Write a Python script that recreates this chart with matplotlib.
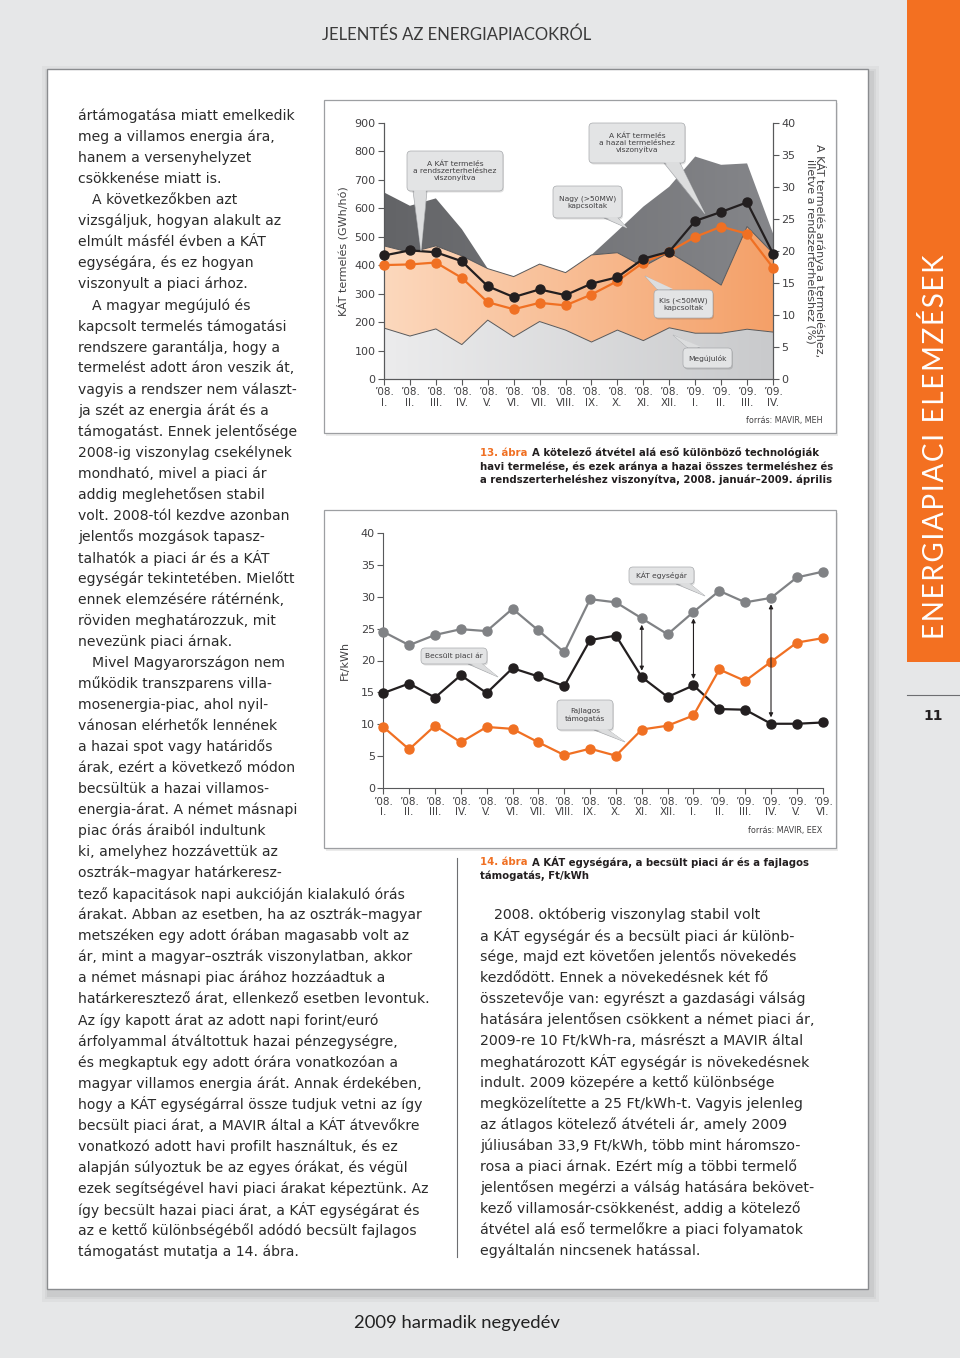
import numpy as np
import matplotlib
matplotlib.use('Agg')
import matplotlib.pyplot as plt
from matplotlib.patches import Rectangle, FancyBboxPatch, Polygon
from matplotlib.colors import LinearSegmentedColormap

# ---- data: chart 13 (monthly KÁT production, GWh/month, and shares in %) ----
months13 = ['’08.\nI.', '’08.\nII.', '’08.\nIII.', '’08.\nIV.', '’08.\nV.', '’08.\nVI.',
            '’08.\nVII.', '’08.\nVIII.', '’08.\nIX.', '’08.\nX.', '’08.\nXI.', '’08.\nXII.',
            '’09.\nI.', '’09.\nII.', '’09.\nIII.', '’09.\nIV.']
megujulok = [179, 151, 176, 121, 207, 148, 202, 172, 130, 172, 135, 180, 161, 161, 175, 165]
kis_kapcsolt = [289, 294, 292, 312, 181, 212, 202, 202, 306, 272, 260, 265, 229, 169, 361, 277]
nagy_kapcsolt = [188, 164, 167, 94, 0, 0, 0, 0, 0, 76, 211, 231, 392, 423, 222, 70]
arany_hazai = [19.3, 20.1, 19.8, 18.4, 14.5, 12.8, 14.0, 13.1, 14.9, 15.9, 18.8, 19.9,
               24.7, 26.1, 27.6, 19.6]
arany_rendszer = [17.8, 17.9, 18.2, 15.8, 12.0, 10.9, 11.9, 11.5, 13.2, 15.3, 18.2, 19.9,
                  22.2, 23.8, 22.7, 17.4]

# ---- data: chart 14 (Ft/kWh) ----
months14 = months13 + ['’09.\nV.', '’09.\nVI.']
kat_egysegar = [24.5, 22.4, 24.0, 24.9, 24.6, 28.1, 24.7, 21.3, 29.6, 29.1, 26.6, 24.1,
                27.6, 30.9, 29.1, 29.8, 33.0, 33.9]
piaci_ar = [14.9, 16.4, 14.2, 17.7, 14.9, 18.8, 17.5, 16.0, 23.2, 23.9, 17.4, 14.3,
            16.1, 12.4, 12.3, 10.1, 10.1, 10.3]
tamogatas = [9.6, 6.1, 9.8, 7.2, 9.6, 9.3, 7.2, 5.2, 6.2, 5.1, 9.2, 9.8,
             11.4, 18.6, 16.8, 19.8, 22.8, 23.5]
arrow_months = [10, 12, 15]

# ---- page text ----
left_lines = [
    'ártámogatása miatt emelkedik', 'meg a villamos energia ára,', 'hanem a versenyhelyzet',
    'csökkenése miatt is.', '>A következőkben azt', 'vizsgáljuk, hogyan alakult az',
    'elmúlt másfél évben a KÁT', 'egységára, és ez hogyan', 'viszonyult a piaci árhoz.',
    '>A magyar megújuló és', 'kapcsolt termelés támogatási', 'rendszere garantálja, hogy a',
    'termelést adott áron veszik át,', 'vagyis a rendszer nem választ-',
    'ja szét az energia árát és a', 'támogatást. Ennek jelentősége',
    '2008-ig viszonylag csekélynek', 'mondható, mivel a piaci ár', 'addig meglehetősen stabil',
    'volt. 2008-tól kezdve azonban', 'jelentős mozgások tapasz-', 'talhatók a piaci ár és a KÁT',
    'egységár tekintetében. Mielőtt', 'ennek elemzésére rátérnénk,', 'röviden meghatározzuk, mit',
    'nevezünk piaci árnak.', '>Mivel Magyarországon nem', 'működik transzparens villa-',
    'mosenergia-piac, ahol nyil-', 'vánosan elérhetők lennének', 'a hazai spot vagy határidős',
    'árak, ezért a következő módon', 'becsültük a hazai villamos-', 'energia-árat. A német másnapi',
    'piac órás áraiból indultunk', 'ki, amelyhez hozzávettük az', 'osztrák–magyar határkeresz-',
    'tező kapacitások napi aukcióján kialakuló órás',
    'árakat. Abban az esetben, ha az osztrák–magyar',
    'metszéken egy adott órában magasabb volt az',
    'ár, mint a magyar–osztrák viszonylatban, akkor',
    'a német másnapi piac árához hozzáadtuk a',
    'határkeresztező árat, ellenkező esetben levontuk.',
    'Az így kapott árat az adott napi forint/euró',
    'árfolyammal átváltottuk hazai pénzegységre,',
    'és megkaptuk egy adott órára vonatkozóan a',
    'magyar villamos energia árát. Annak érdekében,',
    'hogy a KÁT egységárral össze tudjuk vetni az így',
    'becsült piaci árat, a MAVIR által a KÁT átvevőkre',
    'vonatkozó adott havi profilt használtuk, és ez',
    'alapján súlyoztuk be az egyes órákat, és végül',
    'ezek segítségével havi piaci árakat képeztünk. Az',
    'így becsült hazai piaci árat, a KÁT egységárat és',
    'az e kettő különbségéből adódó becsült fajlagos',
    'támogatást mutatja a 14. ábra.',
]
right_lines = [
    '>2008. októberig viszonylag stabil volt', 'a KÁT egységár és a becsült piaci ár különb-',
    'sége, majd ezt követően jelentős növekedés', 'kezdődött. Ennek a növekedésnek két fő',
    'összetevője van: egyrészt a gazdasági válság', 'hatására jelentősen csökkent a német piaci ár,',
    '2009-re 10 Ft/kWh-ra, másrészt a MAVIR által', 'meghatározott KÁT egységár is növekedésnek',
    'indult. 2009 közepére a kettő különbsége', 'megközelítette a 25 Ft/kWh-t. Vagyis jelenleg',
    'az átlagos kötelező átvételi ár, amely 2009', 'júliusában 33,9 Ft/kWh, több mint háromszo-',
    'rosa a piaci árnak. Ezért míg a többi termelő', 'jelentősen megérzi a válság hatására bekövet-',
    'kező villamosár-csökkenést, addig a kötelező', 'átvétel alá eső termelőkre a piaci folyamatok',
    'egyáltalán nincsenek hatással.',
]

ORANGE = '#f07023'
DARK = '#231f20'
TXT = '#2b2b2b'
GRAYTXT = '#414042'
LATO = ['Lato', 'DejaVu Sans']

fig = plt.figure(figsize=(9.6, 13.58), dpi=100)
fig.patch.set_facecolor('#e6e7e8')

# background layer in pixel coordinates
bg = fig.add_axes([0, 0, 1, 1], zorder=0)
bg.set_xlim(0, 960)
bg.set_ylim(1358, 0)
bg.axis('off')

# sidebar
bg.add_patch(Rectangle((907, 0), 53, 662, fc='#f37021', ec='none'))
bg.text(935, 447, '\u200a'.join('ENERGIAPIACI ELEMZÉSEK'), rotation=90, ha='center',
        va='center', color='white', fontsize=20, family=LATO)
bg.plot([907, 960], [695, 695], color='#6d6e71', lw=0.8)
bg.text(933, 716, '11', ha='center', va='center', fontsize=10, fontweight='bold', color=DARK)

bg.text(457, 35, 'JELENTÉS AZ ENERGIAPIACOKRÓL', ha='center', va='center', fontsize=12,
        family=LATO, color='#3a3a3a')
bg.text(457, 1323, '2009 harmadik negyedév', ha='center', va='center', fontsize=13.3,
        family=LATO, color='#222222')

# page with soft shadow
for k, a in [(8, 0.03), (5, 0.04), (3, 0.05)]:
    bg.add_patch(Rectangle((47 - k + 3, 69 - k + 5), 821 + 2 * k, 1220 + 2 * k,
                           fc='black', ec='none', alpha=a))
bg.add_patch(Rectangle((47, 69), 821, 1220, fc='white', ec='#8a8c8f', lw=1))

# chart boxes
for (x0, y0, x1, y1) in [(324, 100, 836, 433), (324, 510, 836, 848)]:
    bg.add_patch(Rectangle((x0 + 2, y0 + 3), x1 - x0, y1 - y0, fc='black', ec='none', alpha=0.08))
    bg.add_patch(Rectangle((x0, y0), x1 - x0, y1 - y0, fc='white', ec='#9d9fa2', lw=0.9))

# body text
for i, s in enumerate(left_lines):
    x = 78
    if s.startswith('>'):
        s, x = s[1:], 92
    bg.text(x, 116 + 21.03 * i, s, ha='left', va='center', fontsize=10.1, color=TXT)
for i, s in enumerate(right_lines):
    x = 480
    if s.startswith('>'):
        s, x = s[1:], 494
    bg.text(x, 915 + 21.0 * i, s, ha='left', va='center', fontsize=10.2, color=TXT)
bg.plot([457, 457], [858, 1257], color='#6d6e71', lw=0.8)

# captions
cap_fs = 7.25
bg.text(480, 453, '13. ábra', fontsize=cap_fs, fontweight='bold', color=ORANGE, va='center')
bg.text(532, 453, 'A kötelező átvétel alá eső különböző technológiák', fontsize=cap_fs,
        fontweight='bold', color=DARK, va='center')
bg.text(480, 466.5, 'havi termelése, és ezek aránya a hazai összes termeléshez és',
        fontsize=cap_fs, fontweight='bold', color=DARK, va='center')
bg.text(480, 480, 'a rendszerterheléshez viszonyítva, 2008. január–2009. április',
        fontsize=cap_fs, fontweight='bold', color=DARK, va='center')
bg.text(480, 862, '14. ábra', fontsize=cap_fs, fontweight='bold', color=ORANGE, va='center')
bg.text(532, 862, 'A KÁT egységára, a becsült piaci ár és a fajlagos', fontsize=cap_fs,
        fontweight='bold', color=DARK, va='center')
bg.text(480, 876, 'támogatás, Ft/kWh', fontsize=cap_fs, fontweight='bold', color=DARK,
        va='center')
bg.text(822, 421, 'forrás: MAVIR, MEH', fontsize=5.8, color=GRAYTXT, ha='right', va='center')
bg.text(822, 830, 'forrás: MAVIR, EEX', fontsize=5.8, color=GRAYTXT, ha='right', va='center')


def px_axes(x0, y0, x1, y1, z=2):
    return fig.add_axes([x0 / 960, 1 - y1 / 1358, (x1 - x0) / 960, (y1 - y0) / 1358], zorder=z)


def style_axis(ax):
    ax.set_facecolor('none')
    for sp in ax.spines.values():
        sp.set_color('#58595b')
        sp.set_linewidth(0.8)
    ax.tick_params(colors='#58595b', labelcolor=GRAYTXT, width=0.8, length=4, pad=2)


def grad_fill(ax, x, lo, hi, c0, c1, ymax, z):
    verts = list(zip(x, hi)) + list(zip(x[::-1], lo[::-1]))
    poly = Polygon(verts, closed=True, fc='none', ec='none')
    ax.add_patch(poly)
    cmap = LinearSegmentedColormap.from_list('g', [c0, c1])
    im = ax.imshow(np.linspace(0, 1, 256).reshape(1, -1), cmap=cmap, aspect='auto',
                   extent=[x[0], x[-1], 0, ymax], origin='lower', zorder=z)
    im.set_clip_path(poly)


# ---- chart 13 ----
ax13 = px_axes(384, 123, 773, 379)
style_axis(ax13)
x13 = np.arange(len(months13))
b1 = np.array(megujulok, float)
b2 = b1 + np.array(kis_kapcsolt)
b3 = b2 + np.array(nagy_kapcsolt)
zero = np.zeros_like(b1)
grad_fill(ax13, x13, zero, b1, '#ececed', '#c9cacc', 900, 1)
grad_fill(ax13, x13, b1, b2, '#fcd8bd', '#f4a068', 900, 1)
grad_fill(ax13, x13, b2, b3, '#636467', '#85868a', 900, 1)
ax13.plot(x13, b1, color='#58595b', lw=0.7, zorder=2)
ax13.plot(x13, b2, color='#58595b', lw=0.7, zorder=2)
ax13.set_xlim(0, len(months13) - 1)
ax13.set_ylim(0, 900)
ax13.set_yticks(range(0, 901, 100))
ax13.set_xticks(x13)
ax13.set_xticklabels(months13, fontsize=7.5, linespacing=1.05)
ax13.tick_params(axis='y', labelsize=8)
ax13.spines['top'].set_visible(False)
ax13.set_ylabel('KÁT termelés (GWh/hó)', fontsize=8, color=GRAYTXT, labelpad=4)

ax13r = ax13.twinx()
style_axis(ax13r)
ax13r.spines['top'].set_visible(False)
ax13r.set_ylim(0, 40)
ax13r.set_yticks(range(0, 41, 5))
ax13r.tick_params(axis='y', labelsize=8)
ax13r.plot(x13, arany_rendszer, color=ORANGE, lw=1.6, marker='o', ms=6.5, clip_on=False, zorder=3)
ax13r.plot(x13, arany_hazai, color=DARK, lw=1.6, marker='o', ms=6.5, clip_on=False, zorder=4)
ax13r.set_ylabel('A KÁT termelés aránya a termeléshez,\nilletve a rendszerterheléshez (%)',
                 rotation=270, fontsize=8, color=GRAYTXT, labelpad=22, linespacing=1.0)

# ---- chart 14 ----
ax14 = px_axes(383.3, 532.7, 822.7, 788.3)
style_axis(ax14)
x14 = np.arange(len(months14))
ax14.plot(x14, kat_egysegar, color='#808285', lw=1.6, marker='o', ms=6.5, clip_on=False, zorder=3)
ax14.plot(x14, piaci_ar, color=DARK, lw=1.6, marker='o', ms=6.5, clip_on=False, zorder=3)
ax14.plot(x14, tamogatas, color=ORANGE, lw=1.6, marker='o', ms=6.5, clip_on=False, zorder=3)
for i in arrow_months:
    ax14.annotate('', xy=(i, piaci_ar[i] + 1.0), xytext=(i, kat_egysegar[i] - 1.0),
                  arrowprops=dict(arrowstyle='<|-|>', color=DARK, lw=0.8,
                                  mutation_scale=6, shrinkA=0, shrinkB=0))
ax14.set_xlim(0, len(months14) - 1)
ax14.set_ylim(0, 40)
ax14.set_yticks(range(0, 41, 5))
ax14.set_xticks(x14)
ax14.set_xticklabels(months14, fontsize=7.5, linespacing=1.05)
ax14.tick_params(axis='y', labelsize=8)
for s in ['top', 'right']:
    ax14.spines[s].set_visible(False)
ax14.set_ylabel('Ft/kWh', fontsize=8, color=GRAYTXT, labelpad=8)

# ---- callouts (pixel overlay) ----
ov = fig.add_axes([0, 0, 1, 1], zorder=10)
ov.set_xlim(0, 960)
ov.set_ylim(1358, 0)
ov.axis('off')
ov.patch.set_alpha(0)


def callout(box, base, tip, text):
    x0, y0, x1, y1 = box
    ov.add_patch(Polygon([base[0], tip, base[1]], closed=True, fc='#dcddde', ec='#a7a9ac',
                         lw=0.5, zorder=1))
    ov.add_patch(FancyBboxPatch((x0 + 1, y0 + 1.5), x1 - x0, y1 - y0,
                                boxstyle='round,pad=0,rounding_size=4', fc='black', ec='none',
                                alpha=0.12, zorder=1))
    ov.add_patch(FancyBboxPatch((x0, y0), x1 - x0, y1 - y0,
                                boxstyle='round,pad=0,rounding_size=4', fc='#e3e4e5',
                                ec='#a7a9ac', lw=0.5, zorder=2))
    ov.add_patch(Polygon([(base[0][0] + 1, base[0][1] - 1), tip, (base[1][0] - 1, base[1][1] - 1)],
                         closed=True, fc='#dcddde', ec='none', zorder=3))
    ov.text((x0 + x1) / 2, (y0 + y1) / 2, text, ha='center', va='center', fontsize=5.4,
            color=GRAYTXT, linespacing=1.15, zorder=4)


callout((407, 151, 503, 191), [(413, 191), (427, 191)], (421, 251),
        'A KÁT termelés\na rendszerterheléshez\nviszonyítva')
callout((553, 186, 622, 218), [(604, 218), (618, 218)], (627, 228), 'Nagy (>50MW)\nkapcsoltak')
callout((589, 123, 685, 163), [(664, 163), (680, 163)], (705, 214),
        'A KÁT termelés\na hazai termeléshez\nviszonyítva')
callout((654, 290, 713, 318), [(672, 290), (658, 290)], (645, 276), 'Kis (<50MW)\nkapcsoltak')
callout((683, 348, 732, 368), [(700, 348), (688, 348)], (673, 335), 'Megújulók')
callout((629, 567, 694, 584), [(676, 584), (690, 584)], (705, 596), 'KÁT egységár')
callout((421, 648, 487, 664), [(468, 664), (482, 664)], (498, 677), 'Becsült piaci ár')
callout((557, 700, 613, 730), [(594, 730), (608, 730)], (625, 742), 'Fajlagos\ntámogatás')

fig.savefig('out.png', dpi=100, facecolor=fig.get_facecolor())
